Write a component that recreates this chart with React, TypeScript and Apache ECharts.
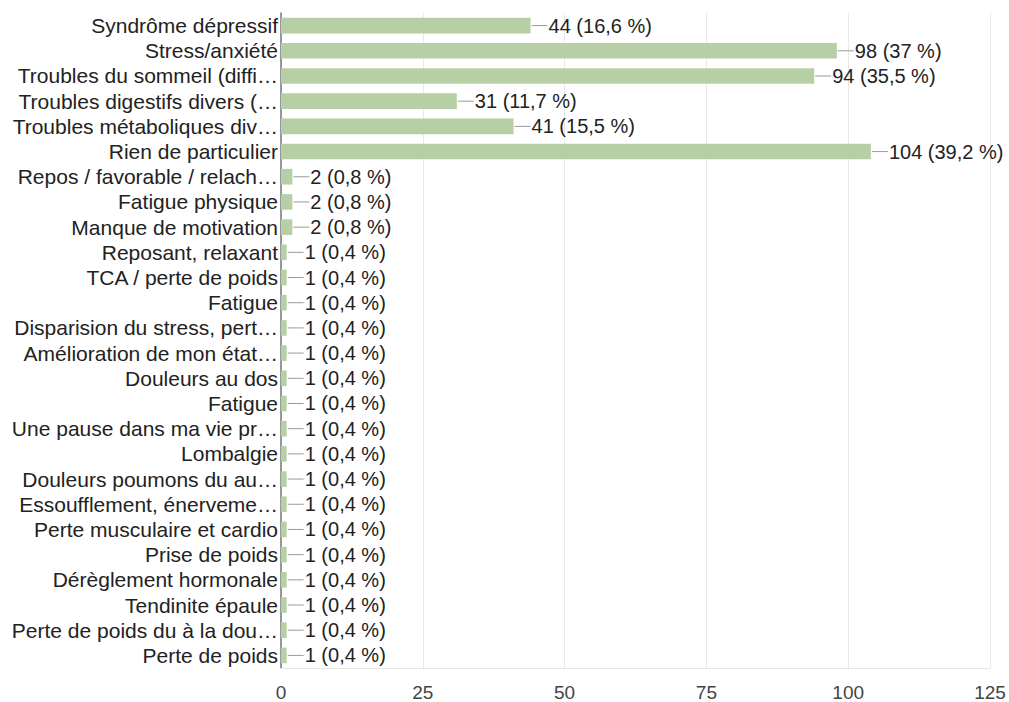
import React, { useEffect, useRef } from "react";
import * as echarts from "echarts";

const categories = [
  "Syndrôme dépressif",
  "Stress/anxiété",
  "Troubles du sommeil (diffi…",
  "Troubles digestifs divers (…",
  "Troubles métaboliques div…",
  "Rien de particulier",
  "Repos / favorable / relach…",
  "Fatigue physique",
  "Manque de motivation",
  "Reposant, relaxant",
  "TCA / perte de poids",
  "Fatigue",
  "Disparision du stress, pert…",
  "Amélioration de mon état…",
  "Douleurs au dos",
  "Fatigue",
  "Une pause dans ma vie pr…",
  "Lombalgie",
  "Douleurs poumons du au…",
  "Essoufflement, énerveme…",
  "Perte musculaire et cardio",
  "Prise de poids",
  "Dérèglement hormonale",
  "Tendinite épaule",
  "Perte de poids du à la dou…",
  "Perte de poids",
];

const counts = [44, 98, 94, 31, 41, 104, 2, 2, 2, 1, 1, 1, 1, 1, 1, 1, 1, 1, 1, 1, 1, 1, 1, 1, 1, 1];

const percents = [
  "16,6", "37", "35,5", "11,7", "15,5", "39,2", "0,8", "0,8", "0,8",
  "0,4", "0,4", "0,4", "0,4", "0,4", "0,4", "0,4", "0,4", "0,4", "0,4",
  "0,4", "0,4", "0,4", "0,4", "0,4", "0,4", "0,4",
];

const xTicks = { min: 0, max: 125, interval: 25 };

export default function App() {
  const ref = useRef<HTMLDivElement>(null);
  useEffect(() => {
    if (!ref.current) return;
    const chart = echarts.init(ref.current, null, { renderer: "svg" });
    const font = "'Liberation Sans', Arial, sans-serif";
    chart.setOption({
      animation: false,
      grid: { left: 281, right: 19, top: 13, bottom: 31, containLabel: false },
      xAxis: {
        type: "value",
        min: xTicks.min,
        max: xTicks.max,
        interval: xTicks.interval,
        axisLine: { show: true, lineStyle: { color: "#e6e6e6" } },
        axisTick: { show: false },
        splitLine: { show: true, lineStyle: { color: "#e8e8e8" } },
        axisLabel: { color: "#444", fontSize: 19, fontFamily: font, margin: 15 },
      },
      yAxis: {
        type: "category",
        inverse: true,
        data: categories,
        axisLine: { show: true, lineStyle: { color: "#777", width: 1.5 } },
        axisTick: { show: false },
        axisLabel: { color: "#222", fontSize: 21, fontFamily: font, margin: 3, interval: 0 },
      },
      series: [
        {
          type: "bar",
          data: counts,
          barCategoryGap: "38%",
          itemStyle: { color: "#b7cfa5" },
          label: {
            show: true,
            position: "right",
            distance: 1,
            formatter: (p: any) => `{ln|}{v|${counts[p.dataIndex]} (${percents[p.dataIndex]} %)}`,
            rich: {
              ln: { width: 16, height: 1, backgroundColor: "#9a9a9a", verticalAlign: "middle" },
              v: { color: "#222", fontSize: 20, fontFamily: font, padding: [0, 0, 0, 1] },
            },
          },
        },
      ],
    });
    return () => chart.dispose();
  }, []);
  return <div ref={ref} style={{ width: 1009, height: 702, position: "absolute", left: 0, top: 0 }} />;
}
